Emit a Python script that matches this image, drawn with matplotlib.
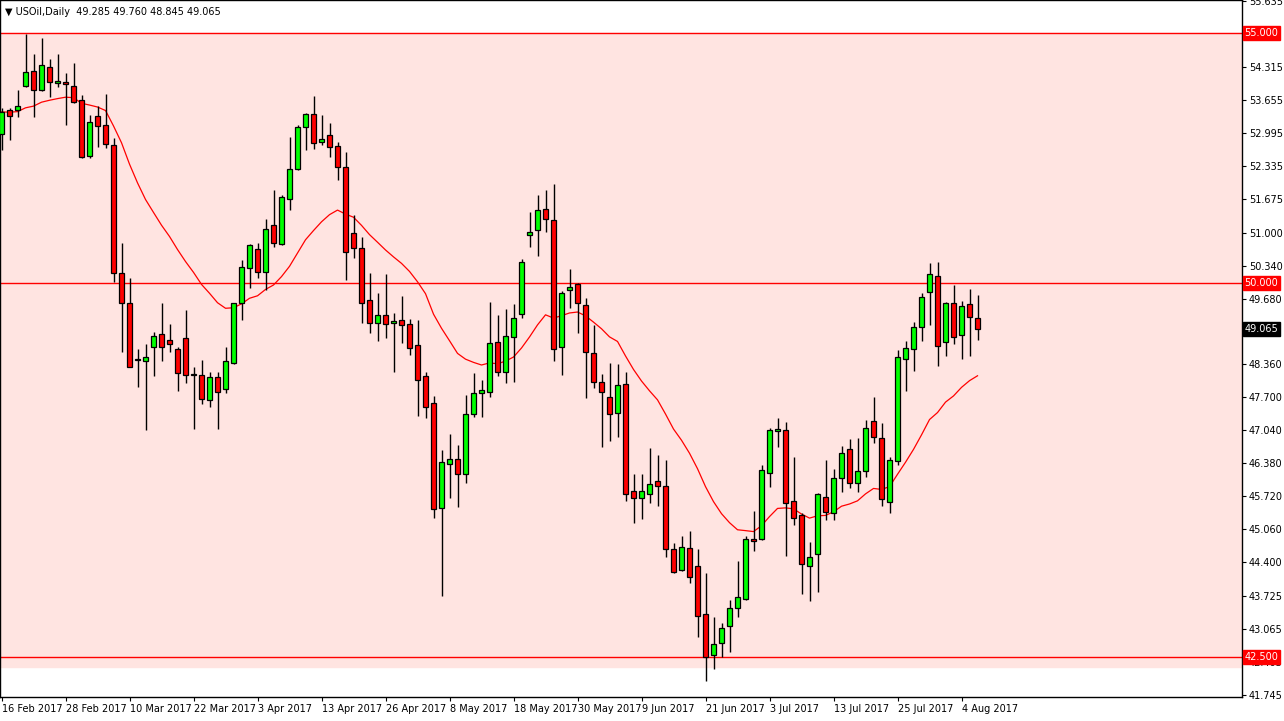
import matplotlib.pyplot as plt
import numpy as np
import pandas as pd

# daily OHLC, 16 Feb 2017 .. 8 Aug 2017
opens = [52.98, 53.46, 53.46, 53.94, 54.24, 53.86, 54.32, 54.00, 54.02, 53.94,
         53.66, 52.54, 53.34, 53.16, 52.76, 50.20, 49.60, 48.44, 48.42, 48.72,
         48.98, 48.86, 48.66, 48.90, 48.14, 48.14, 47.65, 48.10, 47.86, 48.38,
         49.60, 50.29, 50.68, 50.21, 51.15, 50.78, 51.68, 52.28, 53.12, 53.38,
         52.82, 52.96, 52.74, 52.32, 51.00, 50.70, 49.66, 49.20, 49.36, 49.20,
         49.25, 49.17, 48.75, 48.13, 47.59, 45.49, 46.37, 46.47, 46.17, 47.37,
         47.79, 47.81, 48.81, 48.21, 48.91, 49.37, 50.95, 51.05, 51.47, 51.25,
         48.71, 49.85, 49.97, 49.55, 48.59, 48.01, 47.71, 47.39, 47.97, 45.83,
         45.69, 45.77, 46.03, 45.93, 44.67, 44.25, 44.69, 44.33, 43.37, 42.54,
         42.78, 43.12, 43.48, 43.66, 44.87, 44.87, 46.19, 47.03, 47.05, 45.63,
         45.35, 44.33, 44.57, 45.71, 45.39, 46.09, 46.67, 45.99, 46.23, 47.23,
         46.89, 45.61, 46.43, 48.47, 48.67, 49.11, 49.81, 50.13, 48.81, 49.59,
         48.95, 49.57, 49.285]
highs = [53.50, 53.50, 53.86, 54.98, 54.58, 54.90, 54.48, 54.58, 54.20, 54.40,
         53.76, 53.36, 53.54, 53.78, 52.90, 50.80, 50.10, 48.66, 48.78, 49.02,
         49.60, 49.18, 48.72, 49.46, 48.30, 48.45, 48.20, 48.20, 48.72, 49.60,
         50.45, 50.78, 50.80, 51.27, 51.86, 51.76, 52.92, 53.16, 53.40, 53.74,
         53.36, 53.20, 52.82, 52.62, 51.36, 50.92, 50.20, 49.80, 50.18, 49.40,
         49.73, 49.27, 49.25, 48.20, 47.73, 46.64, 46.97, 46.75, 47.75, 48.19,
         48.05, 49.61, 49.35, 49.47, 49.57, 50.47, 51.41, 51.75, 51.85, 51.97,
         49.83, 50.27, 50.00, 49.69, 49.15, 48.17, 48.39, 48.37, 48.21, 46.17,
         46.17, 46.69, 46.55, 46.45, 44.79, 44.93, 45.03, 44.67, 44.19, 43.30,
         43.18, 43.64, 44.42, 44.93, 45.43, 46.35, 47.09, 47.29, 47.21, 46.51,
         45.39, 44.81, 45.79, 46.45, 46.27, 46.73, 46.87, 46.89, 47.25, 47.71,
         47.19, 46.51, 48.65, 48.83, 49.21, 49.79, 50.39, 50.41, 49.61, 49.95,
         49.63, 49.87, 49.760]
lows = [52.66, 52.86, 53.32, 53.92, 53.32, 53.84, 53.72, 53.92, 53.16, 53.60,
        52.50, 52.50, 52.72, 52.70, 50.02, 48.60, 48.30, 47.90, 47.05, 48.12,
        48.42, 48.60, 47.82, 47.98, 47.06, 47.57, 47.50, 47.06, 47.78, 48.36,
        49.25, 49.90, 50.10, 49.85, 50.71, 50.76, 51.45, 52.26, 52.66, 52.68,
        52.76, 52.52, 52.06, 50.06, 50.50, 49.20, 49.00, 48.83, 48.90, 48.20,
        48.80, 48.55, 47.33, 47.29, 45.28, 43.72, 45.69, 45.50, 45.99, 47.31,
        47.31, 47.71, 48.13, 47.99, 48.01, 49.29, 50.71, 50.53, 51.01, 48.43,
        48.15, 49.49, 48.99, 47.69, 47.89, 46.71, 46.83, 46.91, 45.63, 45.19,
        45.27, 45.59, 45.53, 44.51, 44.19, 44.23, 43.99, 42.90, 42.03, 42.26,
        42.50, 42.60, 43.30, 43.64, 44.63, 44.85, 45.91, 46.71, 44.53, 45.15,
        43.77, 43.63, 43.80, 45.25, 45.25, 45.81, 45.89, 45.81, 46.11, 46.79,
        45.53, 45.39, 46.35, 47.83, 48.23, 48.83, 49.15, 48.33, 48.53, 48.77,
        48.47, 48.53, 48.845]
closes = [53.42, 53.34, 53.54, 54.22, 53.86, 54.36, 54.02, 54.00, 53.98, 53.62,
          52.52, 53.22, 53.14, 52.78, 50.20, 49.60, 48.30, 48.44, 48.50, 48.94,
          48.72, 48.78, 48.18, 48.14, 48.14, 47.67, 48.10, 47.80, 48.43, 49.60,
          50.31, 50.75, 50.21, 51.07, 50.80, 51.72, 52.28, 53.12, 53.38, 52.80,
          52.88, 52.72, 52.32, 50.62, 50.70, 49.60, 49.20, 49.36, 49.18, 49.20,
          49.15, 48.69, 48.05, 47.51, 45.47, 46.40, 46.47, 46.17, 47.37, 47.79,
          47.85, 48.79, 48.21, 48.93, 49.29, 50.41, 51.01, 51.45, 51.27, 48.67,
          49.79, 49.91, 49.59, 48.61, 48.01, 47.81, 47.37, 47.95, 45.77, 45.69,
          45.83, 45.97, 45.93, 44.67, 44.21, 44.71, 44.11, 43.33, 42.50, 42.76,
          43.08, 43.48, 43.70, 44.87, 44.83, 46.25, 47.05, 47.03, 45.59, 45.29,
          44.37, 44.51, 45.77, 45.41, 46.09, 46.59, 45.99, 46.23, 47.09, 46.91,
          45.67, 46.45, 48.51, 48.69, 49.11, 49.71, 50.17, 48.73, 49.59, 48.91,
          49.53, 49.31, 49.065]

date_labels = ["16 Feb 2017", "28 Feb 2017", "10 Mar 2017", "22 Mar 2017", "3 Apr 2017",
               "13 Apr 2017", "26 Apr 2017", "8 May 2017", "18 May 2017", "30 May 2017",
               "9 Jun 2017", "21 Jun 2017", "3 Jul 2017", "13 Jul 2017", "25 Jul 2017",
               "4 Aug 2017"]
date_bars = [0, 8, 16, 24, 32, 40, 48, 56, 64, 72, 80, 88, 96, 104, 112, 120]

price_ticks = [55.635, 54.315, 53.655, 52.995, 52.335, 51.675, 51.000, 50.340, 49.680,
               48.360, 47.700, 47.040, 46.380, 45.720, 45.060, 44.400, 43.725, 43.065,
               42.405, 41.745]
levels = [55.0, 50.0, 42.5]
zone = (42.3, 55.0)

o = np.array(opens); h = np.array(highs); l = np.array(lows); c = np.array(closes)
x = np.arange(len(o))
ma = pd.Series(c).ewm(span=20, adjust=False).mean()

ymin, ymax = 41.70, 55.66
fig = plt.figure(figsize=(12.84, 7.21), dpi=100)
ax = fig.add_axes([0, 24 / 721, 1242 / 1284, 697 / 721])
ax.set_xlim(-0.19, 155.06)
ax.set_ylim(ymin, ymax)

ax.axhspan(zone[0], zone[1], color="#FFE4E1", zorder=0)
for lv in levels:
    ax.axhline(lv, color="red", lw=1, zorder=1)

ax.plot(x, ma, color="red", lw=0.9, zorder=2)

ax.vlines(x, l, h, color="black", lw=1, zorder=3)
up = c >= o
bottom = np.minimum(o, c)
height = np.maximum(np.abs(c - o), 0.03)
ax.bar(x, height, bottom=bottom, width=0.62,
       color=np.where(up, "#00FF00", "#FF0000"), edgecolor="black", lw=0.9, zorder=4)

ax.yaxis.tick_right()
ax.set_yticks(price_ticks)
ax.set_yticklabels([f"{t:.3f}" for t in price_ticks], fontsize=7)
ax.tick_params(axis="y", length=3, pad=2)
ax.set_xticks(date_bars)
ax.set_xticklabels(date_labels, fontsize=7, ha="left")
ax.tick_params(axis="x", length=3, pad=2)
for s in ax.spines.values():
    s.set_linewidth(1)

for lv in levels:
    ax.text(1.002, (lv - ymin) / (ymax - ymin), f"{lv:.3f}", transform=ax.transAxes,
            fontsize=7, color="white", va="center", ha="left", zorder=5,
            bbox=dict(boxstyle="square,pad=0.2", fc="red", ec="red"))
ax.text(1.002, (closes[-1] - ymin) / (ymax - ymin), f"{closes[-1]:.3f}",
        transform=ax.transAxes, fontsize=7, color="white", va="center", ha="left",
        bbox=dict(boxstyle="square,pad=0.2", fc="black", ec="black"))

ax.text(0.004, 0.99, "\u25BC USOil,Daily  49.285 49.760 48.845 49.065",
        transform=ax.transAxes, fontsize=7, va="top", ha="left")

fig.savefig("out.png", dpi=100)
